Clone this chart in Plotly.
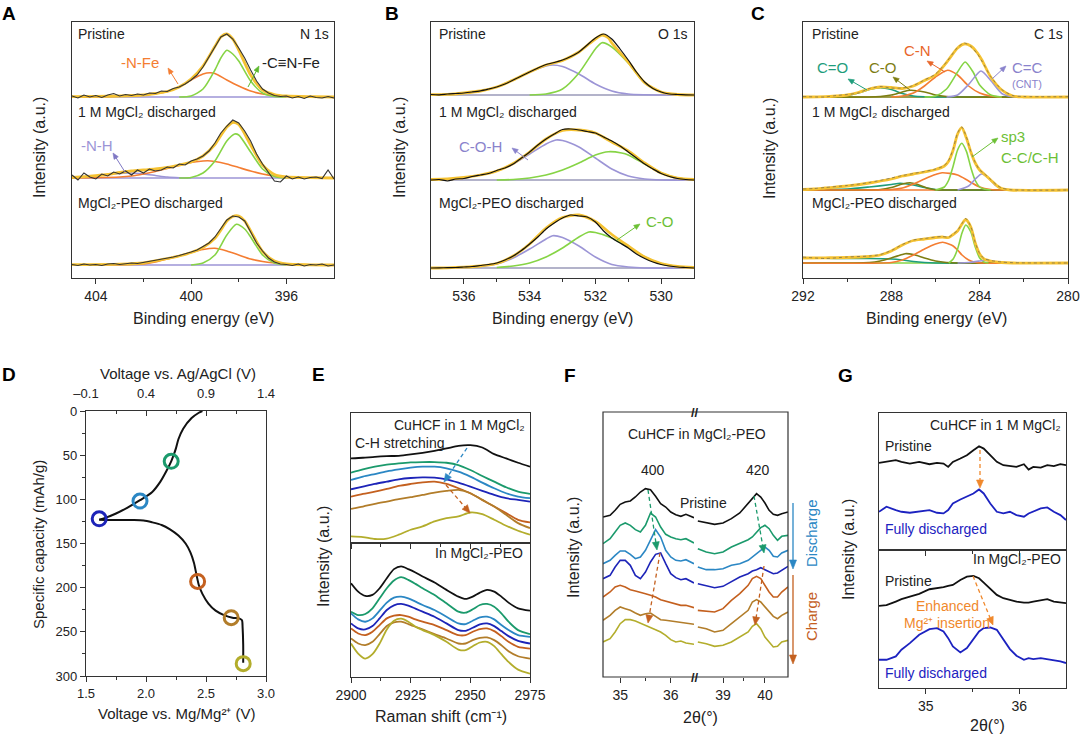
import math
import plotly.graph_objects as go

W, H = 1080, 737
FONT = "Liberation Sans, Arial, Helvetica, sans-serif"

# ================= DATA =================
# ---- Panel A : N 1s XPS (heights above each spectrum's own baseline) ----
A_RAW_EV = [405, 404.75, 404.5, 404.25, 404, 403.75, 403.5, 403.25, 403, 402.75, 402.5, 402.25, 402, 401.75,
            401.5, 401.25, 401, 400.75, 400.5, 400.25, 400, 399.75, 399.5, 399.25, 399, 398.75, 398.5, 398.25,
            398, 397.75, 397.5, 397.25, 397, 396.75, 396.5, 396.25, 396, 395.75, 395.5, 395.25, 395, 394.75,
            394.5, 394.25, 394]
A_PRI_RAW = [1, -1, 2, 0, 1.5, -0.5, 2, 3.5, 1, 2.5, 1.5, 3, 2, 4, 3.5, 6, 5.5, 8.5, 10, 13, 17, 22, 30, 40, 50,
             60, 63, 58, 49, 39, 27, 16, 8, 4, 1.5, 0.5, 1, -1, 0.5, -1.5, 1, -0.5, -1, 0.5, -1]
A_PRI_FIT_EV = [405, 404, 403, 402, 401.5, 401, 400.5, 400, 399.5, 399, 398.75, 398.5, 398.25, 398, 397.5, 397,
                396.5, 396, 395, 394]
A_PRI_FIT = [0.3, 0.6, 1, 2, 3.5, 5.5, 10, 18, 31, 50.5, 60, 63, 58, 47, 22, 7, 2.5, 1, 0.3, 0]
A_PRI_CN_EV = [400.5, 400, 399.5, 399, 398.75, 398.5, 398.25, 398, 397.5, 397, 396.5, 396]
A_PRI_CN = [0, 1, 8, 27, 39, 46.7, 43, 36, 16, 4, 0.5, 0]
A_PRI_NFE_EV = [405, 404, 403, 402, 401, 400.5, 400, 399.5, 399.2, 399, 398.5, 398, 397.5, 397, 396.5, 396, 395, 394]
A_PRI_NFE = [0, 0.3, 0.8, 2, 5.5, 10, 17, 23, 24.3, 23.5, 17, 11, 6, 3, 1.8, 1, 0.3, 0]

A_1M_RAW = [3, -2, 5, 1, -1, 4, 2, 6, 4, 7, 3, 8, 5, 9, 7, 8, 11, 10, 14, 13, 17, 19, 22, 27, 35, 45, 52, 58, 55,
            47, 37, 24, 14, 6, -3, -4, 2, -1, 1, -1, 0.5, 1, -0.5, 8, -1]
A_1M_FIT_EV = [405, 404, 403.5, 403, 402.5, 402, 401.5, 401, 400.5, 400, 399.5, 399, 398.75, 398.5, 398.25, 398,
               397.5, 397, 396.5, 396, 395, 394]
A_1M_FIT = [0.5, 2.3, 3.5, 5.5, 7, 8, 9, 10.5, 13, 16, 22, 33.5, 42.5, 51, 55.5, 53.5, 33, 13, 3.5, 1, 0.3, 0]
A_1M_CN_EV = [400.5, 400, 399.5, 399, 398.5, 398.17, 398, 397.5, 397, 396.5, 396]
A_1M_CN = [0, 0.5, 5, 17, 37, 44, 43, 26, 9, 1.5, 0]
A_1M_NFE_EV = [405, 404, 403, 402.5, 402, 401.5, 401, 400.5, 400, 399.5, 399.3, 399, 398.5, 398, 397.5, 397,
               396.5, 396, 395, 394]
A_1M_NFE = [0, 0.3, 1, 2, 4, 6.5, 9.5, 12.5, 15.5, 17, 17.3, 16.5, 14, 10.5, 7, 4, 2, 1, 0.3, 0]
A_1M_NH_EV = [405, 404, 403.5, 403, 402.6, 402, 401.5, 401, 400.5, 400]
A_1M_NH = [0.5, 2, 3.5, 4.5, 5, 4, 2.5, 1, 0.3, 0]

A_PEO_RAW = [0.5, -0.5, 1, 0, 0.5, -0.5, 1, 1.5, 0.5, 1, 2, 1.5, 2.5, 4, 4.5, 6, 7, 8, 9.5, 11, 13, 15, 18.5, 22,
             28, 37, 45, 49, 48, 44, 33, 22, 14, 7, 3, 1, 0.5, -0.5, 1, -1, 0.5, 0, 1, -1, 0]
A_PEO_FIT_EV = [405, 403, 402, 401, 400.5, 400, 399.5, 399, 398.75, 398.5, 398.25, 398, 397.75, 397.5, 397,
                396.5, 396, 395, 394]
A_PEO_FIT = [0.3, 0.8, 2, 6.5, 9, 12.5, 17.5, 26.7, 35, 44, 48.5, 49, 44, 34, 13.5, 4, 1, 0.2, 0]
A_PEO_CN_EV = [400, 399.5, 399, 398.5, 398.1, 397.75, 397.5, 397, 396.5, 396]
A_PEO_CN = [0, 2, 10, 30, 40.7, 36, 28, 10, 2, 0]
A_PEO_NFE_EV = [405, 403, 402, 401.5, 401, 400.5, 400, 399.5, 399, 398.5, 398, 397.5, 397, 396.5, 396, 395, 394]
A_PEO_NFE = [0, 0.3, 1, 3, 6, 9, 12.5, 15.5, 16.7, 14, 10, 6, 3.5, 2, 1, 0.2, 0]
A_BASE_EV = [405, 394]
A_BASE = [0, 0]
A_OFFSETS = [181, 100, 13]

# ---- Panel B : O 1s ----
B_RAW_EV = [537, 536.75, 536.5, 536.25, 536, 535.75, 535.5, 535.25, 535, 534.75, 534.5, 534.25, 534, 533.75,
            533.5, 533.25, 533, 532.75, 532.5, 532.25, 532, 531.75, 531.5, 531.25, 531, 530.75, 530.5, 530.25,
            530, 529.75, 529.5, 529.25, 529]
B_PRI_RAW = [0.5, 0.2, 1, 1.5, 2, 3, 4.2, 6, 8, 11, 15, 19, 23, 27, 30.5, 32.5, 35, 38.5, 43, 50, 57, 61, 56, 46,
             35, 23, 13, 6.5, 3, 1, 0.5, 0.2, 0]
B_PRI_FIT_EV = [537, 536.5, 536, 535.5, 535, 534.5, 534, 533.5, 533, 532.5, 532.2, 532, 531.8, 531.6, 531.5, 531,
                530.5, 530, 529.5, 529]
B_PRI_FIT = [0.3, 0.6, 2, 4, 8, 15, 23, 30, 34.5, 43, 51, 56, 60, 57, 52, 33, 12.2, 3, 0.5, 0]
B_PRI_COH_EV = [537, 536.5, 536, 535.5, 535, 534.5, 534, 533.5, 533.3, 533, 532.5, 532, 531.5, 531, 530.5, 530, 529]
B_PRI_COH = [0.3, 0.6, 2, 4, 8, 15, 23, 29, 30, 28.5, 21, 11, 4, 1, 0.2, 0, 0]
B_PRI_CO_EV = [534, 533.5, 533, 532.5, 532, 531.8, 531.5, 531, 530.5, 530, 529.5, 529]
B_PRI_CO = [0, 1, 6, 22, 46, 52.3, 48, 32, 12, 3, 0.5, 0]

B_1M_RAW = [0, 0.5, -1, 1, 1.5, 3.5, 5, 6.5, 9.5, 12, 16, 22, 28, 35, 41, 46, 50.5, 51, 50, 48.5, 47, 43, 39, 34,
            28, 22, 16, 11, 6.5, 3.5, 1.5, 0.5, 0]
B_1M_FIT_EV = [537, 536.5, 536, 535.5, 535, 534.5, 534, 533.5, 533, 532.5, 532, 531.5, 531, 530.5, 530, 529.5, 529]
B_1M_FIT = [0.5, 1, 2.5, 5, 9, 16.5, 28, 41, 49.5, 50, 47, 38, 29, 17, 7, 2, 0.5]
B_1M_COH_EV = [537, 536.5, 536, 535.5, 535, 534.5, 534, 533.5, 533.2, 533, 532.5, 532, 531.5, 531, 530.5, 530, 529]
B_1M_COH = [0.5, 1, 2.5, 5, 9, 16, 26, 36, 40, 39.5, 33, 22, 11, 4, 1, 0, 0]
B_1M_CO_EV = [535, 534.5, 534, 533.5, 533, 532.5, 532, 531.6, 531.2, 531, 530.5, 530, 529.5, 529]
B_1M_CO = [0, 0.5, 2, 5, 10, 17, 25, 28.3, 27, 25, 16, 7, 2, 0.5]

B_PEO_RAW = [0, 0.2, 0.3, 0.5, 1, 1.5, 2.5, 3.5, 5, 8, 12, 17.5, 24, 31, 39, 45, 50, 53, 52, 51, 46, 37, 30, 25,
             20, 14, 9.5, 6, 3.5, 2, 1, 0.5, 0]
B_PEO_FIT_EV = [537, 536.5, 536, 535.5, 535, 534.5, 534, 533.5, 533, 532.5, 532, 531.5, 531, 530.5, 530, 529.5, 529]
B_PEO_FIT = [0, 0.2, 0.8, 2, 4.5, 12, 24, 40, 50.5, 53, 46.5, 33.5, 22, 11, 4.5, 1.5, 0.5]
B_PEO_COH_EV = [537, 536, 535.5, 535, 534.5, 534, 533.5, 533.3, 533, 532.5, 532, 531.5, 531, 530.5, 529]
B_PEO_COH = [0, 0.3, 1.5, 4, 10, 19, 29, 32.3, 30.5, 22, 11, 3.5, 1, 0, 0]
B_PEO_CO_EV = [535, 534.5, 534, 533.5, 533, 532.5, 532.2, 532, 531.5, 531, 530.5, 530, 529.5, 529]
B_PEO_CO = [0.5, 2, 5, 11, 20, 31, 36, 35.5, 30, 21, 11, 4.5, 1.5, 0.5]
B_BASE_EV = [537, 529]
B_BASE = [0, 0]
B_OFFSETS = [183, 98, 10]

# ---- Panel C : C 1s ----
C_PRI_EV = [292, 291, 290.5, 290, 289.5, 289, 288.5, 288, 287.5, 287, 286.5, 286, 285.5, 285, 284.7, 284.4, 284.1,
            283.9, 283.5, 283, 282.5, 282, 280]
C_PRI_FIT = [0, 0.3, 1, 2, 4.5, 8, 10, 9.5, 8.5, 11, 16.5, 22, 34.5, 49, 53, 51, 44, 37, 20, 7, 1, 0, 0]
C_PRI_RAW = [0.5, 0, 1.5, 2.5, 4, 8.5, 10.5, 9, 9, 11.5, 17, 23, 35, 49.5, 54, 50.5, 43, 36, 20.5, 7.5, 1.5, 0.5, 0.3]
C_PRI_CEO_EV = [292, 291, 290.5, 290, 289.5, 289, 288.5, 288, 287.5, 287, 286.5, 286, 280]
C_PRI_CEO = [0, 0, 0.5, 1.5, 4, 7.5, 9.3, 7.5, 3.5, 1, 0.2, 0, 0]
C_PRI_CO_EV = [292, 289, 288.5, 288, 287.5, 287.15, 286.5, 286, 285.5, 285, 280]
C_PRI_CO = [0, 0, 0.5, 2, 5, 6.7, 5, 2, 0.5, 0, 0]
C_PRI_CN_EV = [288, 287.5, 287, 286.5, 286, 285.45, 285, 284.5, 284, 283.5, 283]
C_PRI_CN = [0, 1, 4, 11, 20, 26.7, 22, 11, 4, 1, 0]
C_PRI_SP3_EV = [286.5, 286, 285.5, 285, 284.66, 284.3, 284, 283.5, 283]
C_PRI_SP3 = [0, 1, 8, 25, 35, 25, 12, 2, 0]
C_PRI_CC_EV = [285.5, 285, 284.5, 283.94, 283.5, 283, 282.5, 282]
C_PRI_CC = [0, 2, 12.5, 26, 16.5, 3.5, 0.3, 0]

C_1M_EV = [292, 291.5, 291, 290, 289, 288, 287.5, 287, 286.5, 286, 285.6, 285.4, 285.2, 285, 284.81, 284.6, 284.4,
           284.2, 284, 283.8, 283.5, 283.2, 283, 282.6, 280]
C_1M_FIT = [0.5, 1, 2, 4, 7, 11, 14, 16, 18, 20.5, 24, 29, 40, 56, 62.3, 52, 38, 27, 20, 16, 10, 4, 1.5, 0, 0]
C_1M_RAW = [1, 1.5, 2.5, 4.5, 7.5, 12, 14.5, 16.5, 18.5, 21, 24.5, 30, 41, 57, 63, 53, 38.5, 27.5, 20, 16.5, 10.5,
            4.5, 2, 0.3, 0]
C_1M_CEO_EV = [292, 291, 290, 289, 288, 287.6, 287, 286.5, 286, 285.5, 280]
C_1M_CEO = [0.5, 0.8, 1, 3, 5.5, 6.7, 5, 2.5, 0.5, 0, 0]
C_1M_CO_EV = [292, 288.5, 288, 287.5, 287.15, 286.8, 286.3, 286, 285.5, 280]
C_1M_CO = [0, 0.5, 2.5, 6, 7.3, 5.5, 1.5, 0.3, 0, 0]
C_1M_CN_EV = [292, 288, 287.5, 287, 286.5, 286, 285.7, 285, 284.5, 284, 283.5, 283, 280]
C_1M_CN = [0, 0.5, 2, 6, 11, 15.5, 17.3, 15, 9, 3, 0.5, 0, 0]
C_1M_SP3_EV = [286, 285.6, 285.4, 285.2, 285, 284.81, 284.6, 284.4, 284.2, 284, 283.8, 283.5]
C_1M_SP3 = [0, 3, 10, 24, 40, 46.7, 38.6, 22.5, 9.5, 3, 1, 0]
C_1M_CC_EV = [285, 284.5, 284.2, 283.91, 283.6, 283.3, 283, 282.7, 282]
C_1M_CC = [0, 4, 11, 16, 12, 5, 1.5, 0, 0]

C_PEO_EV = [292, 291, 290, 289, 288.5, 288, 287.5, 287, 286.5, 286, 285.7, 285.4, 285.2, 285, 284.8, 284.63,
            284.4, 284.2, 284, 283.8, 283.5, 283, 282.5, 280]
C_PEO_FIT = [5, 5.2, 5.5, 6.5, 8, 12, 18, 22.5, 24, 25.5, 26, 25.5, 28.5, 32, 39, 43.5, 36, 20, 9, 4, 2, 0.5, 0, 0]
C_PEO_RAW = [6, 4.5, 6, 7, 8.5, 12.5, 18.5, 23, 24.5, 26, 26.5, 26, 29, 32.5, 39.5, 44.5, 36.5, 20.5, 9.5, 4.5, 2.5,
             1, 0.3, 0]
C_PEO_CEO_EV = [292, 291, 290, 289, 288, 287.5, 287, 286.5, 286, 280]
C_PEO_CEO = [4.7, 4.7, 4.5, 4.5, 4, 3, 1.5, 0.5, 0, 0]
C_PEO_CO_EV = [292, 289, 288.5, 288, 287.5, 287.38, 287, 286.5, 286, 285.5, 285, 280]
C_PEO_CO = [0, 0.5, 2, 5, 8.5, 9.3, 8.5, 5, 2, 0.5, 0, 0]
C_PEO_CN_EV = [292, 288, 287.5, 287, 286.5, 286, 285.67, 285.4, 285.2, 285, 284.8, 284.5, 284.2, 283.8, 280]
C_PEO_CN = [0, 0.5, 3, 8, 14, 19, 20.7, 19, 17, 13, 8, 3, 0.8, 0, 0]
C_PEO_SP3_EV = [285.4, 285.2, 285, 284.8, 284.63, 284.4, 284.2, 284, 283.8, 283.6]
C_PEO_SP3 = [0, 4, 14, 30, 38, 31, 16, 5, 1, 0]
C_PEO_CC_EV = [285, 284.5, 284, 283.8, 283.5, 283, 282.5]
C_PEO_CC = [0, 0.5, 2, 2.7, 2, 0.5, 0]
C_BASE_EV = [292, 280]
C_BASE = [0, 0]
C_OFFSETS = [181, 88, 15]

# ---- Panel D : charge/discharge curve ----
D_DIS_V = [2.47, 2.44, 2.38, 2.31, 2.27, 2.25, 2.23, 2.21, 2.17, 2.12, 2.05, 1.95, 1.85, 1.75, 1.66, 1.61]
D_DIS_CAP = [0, 2, 8, 20, 32, 42, 50, 57, 68, 80, 92, 101, 109, 116, 121, 123]
D_CHG_V = [1.61, 1.75, 1.9, 1.98, 2.05, 2.13, 2.2, 2.27, 2.33, 2.37, 2.4, 2.42, 2.44, 2.47, 2.52, 2.58, 2.65, 2.72,
           2.78, 2.8, 2.805, 2.81, 2.81]
D_CHG_CAP = [123, 123.5, 123.5, 124, 126, 129, 134, 141, 150, 160, 172, 185, 197, 207, 218, 226, 231, 234, 235, 237,
             245, 265, 285]
D_MARK_V = [2.21, 1.95, 1.61, 2.43, 2.71, 2.81]
D_MARK_CAP = [57, 102, 122, 193, 234, 286]
D_MARK_COLORS = ["#1b9a6c", "#2b87c4", "#1d24b8", "#c4601f", "#b27d2a", "#b3ad2c"]

# ---- Panel E : Raman C-H stretching ----
E_X_TOP = [2900, 2905, 2910, 2915, 2920, 2925, 2930, 2935, 2940, 2945, 2950, 2955, 2960, 2965, 2970, 2975]
E_TOP = [
    [255, 257, 260, 262, 263, 267, 272, 278, 285, 293, 295, 288, 268, 255, 242, 230],
    [212, 222, 230, 236, 240, 243, 244, 244, 242, 235, 220, 202, 185, 168, 155, 148],
    [190, 200, 208, 216, 222, 227, 230, 230, 225, 215, 200, 182, 165, 150, 140, 135],
    [162, 170, 178, 185, 192, 196, 198, 197, 192, 182, 170, 157, 145, 135, 130, 125],
    [140, 148, 155, 163, 172, 178, 183, 185, 178, 165, 150, 130, 110, 90, 70, 62],
    [103, 110, 118, 125, 132, 138, 145, 152, 157, 160, 150, 130, 110, 85, 60, 45],
    [20, 18, 12, 13, 25, 40, 50, 65, 75, 80, 92, 87, 70, 52, 37, 25],
]
E_X_BOT = [2900, 2903, 2906, 2909, 2912, 2915, 2918, 2921, 2924, 2927, 2930, 2935, 2940, 2945, 2948, 2951, 2954,
           2957, 2960, 2963, 2966, 2970, 2975]
E_BOT = [
    [280, 255, 242, 245, 265, 295, 322, 330, 322, 312, 300, 282, 260, 240, 233, 240, 252, 260, 255, 240, 222, 205, 198],
    [195, 185, 188, 205, 235, 265, 288, 298, 290, 278, 265, 245, 220, 195, 192, 202, 215, 218, 210, 190, 165, 140, 128],
    [190, 172, 165, 175, 198, 222, 237, 240, 235, 225, 215, 200, 180, 160, 158, 168, 178, 180, 172, 155, 140, 125, 120],
    [160, 145, 142, 152, 175, 200, 214, 218, 213, 204, 195, 180, 160, 140, 138, 147, 157, 160, 152, 137, 122, 108, 100],
    [145, 130, 125, 135, 155, 175, 183, 185, 180, 172, 165, 155, 140, 125, 125, 135, 143, 145, 137, 122, 105, 90, 85],
    [115, 100, 95, 105, 128, 152, 163, 165, 158, 150, 142, 128, 115, 100, 100, 110, 117, 118, 110, 95, 77, 62, 55],
    [100, 70, 55, 68, 100, 142, 168, 174, 165, 150, 140, 125, 105, 82, 80, 92, 103, 105, 92, 68, 45, 22, 10],
]
SERIES_COLORS = ["#111111", "#1b9a6c", "#2b87c4", "#1d24b8", "#c4601f", "#b27d2a", "#b3ad2c"]

# ---- Panel F : XRD (broken 2-theta axis) ----
F_XL = [34.66, 34.8, 34.9, 35.0, 35.1, 35.2, 35.3, 35.4, 35.5, 35.6, 35.7, 35.8, 35.9, 36.0, 36.1, 36.2, 36.3, 36.46]
F_LEFT = [
    [480, 485, 500, 518, 525, 528, 540, 555, 565, 562, 542, 520, 510, 495, 487, 482, 488, 478],
    [400, 415, 435, 455, 462, 455, 442, 435, 455, 492, 480, 450, 428, 420, 415, 412, 415, 402],
    [340, 350, 365, 378, 378, 368, 355, 360, 380, 410, 442, 420, 380, 360, 350, 348, 352, 340],
    [295, 305, 330, 350, 350, 335, 305, 295, 315, 345, 368, 372, 340, 310, 298, 292, 295, 282],
    [240, 255, 270, 275, 270, 262, 258, 255, 250, 245, 240, 232, 228, 222, 218, 215, 215, 208],
    [170, 185, 200, 210, 205, 200, 192, 185, 190, 192, 182, 172, 170, 168, 165, 164, 162, 158],
    [105, 115, 135, 160, 172, 172, 168, 162, 155, 150, 142, 135, 125, 112, 105, 108, 102, 98],
]
F_XR = [38.4, 38.6, 38.8, 39.0, 39.2, 39.4, 39.6, 39.7, 39.8, 39.9, 40.0, 40.1, 40.2, 40.3, 40.4, 40.55]
F_RIGHT = [
    [468, 462, 458, 462, 475, 492, 520, 535, 550, 540, 522, 500, 488, 485, 490, 495],
    [385, 375, 370, 375, 390, 400, 412, 420, 435, 448, 455, 445, 425, 410, 422, 425],
    [330, 322, 322, 325, 335, 340, 350, 360, 370, 380, 390, 380, 362, 360, 372, 380],
    [280, 275, 268, 272, 285, 300, 310, 318, 322, 328, 322, 315, 310, 312, 320, 332],
    [200, 198, 195, 205, 230, 250, 275, 295, 302, 295, 275, 255, 240, 240, 255, 270],
    [150, 145, 135, 140, 160, 180, 200, 225, 232, 225, 210, 195, 182, 175, 185, 195],
    [105, 100, 92, 95, 105, 120, 135, 152, 160, 145, 120, 105, 90, 92, 105, 110],
]

# ---- Panel G : XRD (400) pristine vs fully discharged ----
G_X = [34.5, 34.58, 34.68, 34.74, 34.83, 34.93, 35.04, 35.12, 35.19, 35.24, 35.29, 35.37, 35.44, 35.51, 35.57,
       35.62, 35.69, 35.76, 35.83, 35.9, 35.97, 36.05, 36.1, 36.15, 36.23, 36.3, 36.37, 36.44, 36.5]
G_AQ_PRI = [262, 265, 270, 265, 260, 265, 258, 262, 260, 250, 265, 275, 285, 300, 312, 305, 285, 265, 255, 252,
            250, 258, 242, 250, 248, 255, 252, 258, 255]
G_AQ_DIS = [115, 130, 120, 115, 112, 115, 120, 112, 110, 120, 140, 152, 160, 170, 182, 170, 140, 115, 110, 115,
            105, 100, 110, 115, 125, 128, 115, 105, 90]
G_PEO_PRI = [247, 249, 260, 267, 275, 283, 297, 300, 303, 307, 310, 325, 335, 337, 330, 317, 297, 280, 270, 265,
             260, 257, 257, 260, 263, 267, 260, 257, 255]
G_PEO_DIS = [85, 85, 95, 115, 135, 160, 177, 180, 170, 150, 125, 107, 120, 145, 170, 180, 182, 175, 145, 117, 97,
             85, 90, 87, 90, 87, 85, 80, 75]

# ================= STYLE / HELPERS =================
FR = "#333333"
ORANGE = "#f47d32"
GREEN = "#86d445"
LAV = "#9c95d6"
YEL = "#f5c232"
TEAL = "#1e9d7c"
OLIVE = "#7d7d12"
RAW = "#333333"
GBLUE = "#1c22c0"


def px(x):
    return x / W


def py(y):
    return 1 - y / H


fig = go.Figure()


def add(x, y, xa, ya, color, width=1.5, off=0, shape="spline", dash=None):
    line = dict(color=color, width=width, shape=shape, dash=dash)
    if shape == "spline":
        line["smoothing"] = 0.7
    fig.add_trace(go.Scatter(x=x, y=[v + off for v in y], xaxis=xa, yaxis=ya, mode="lines", line=line,
                             hoverinfo="skip", showlegend=False))


ann = []
shapes = []


def T(x, y, s, size=14, color="#222222", xa="center", angle=0):
    ann.append(dict(x=px(x), y=py(y), xref="paper", yref="paper", text=s, showarrow=False,
                    font=dict(size=size, color=color, family=FONT), xanchor=xa, yanchor="middle",
                    textangle=angle))


def _head(hx, hy, ux, uy, color, L, w):
    bx, by = hx - ux * L, hy - uy * L
    nx, ny = -uy, ux
    p1 = (bx + nx * w / 2, by + ny * w / 2)
    p2 = (bx - nx * w / 2, by - ny * w / 2)
    path = "M %.5f %.5f L %.5f %.5f L %.5f %.5f Z" % (px(hx), py(hy), px(p1[0]), py(p1[1]), px(p2[0]), py(p2[1]))
    shapes.append(dict(type="path", xref="paper", yref="paper", path=path, fillcolor=color,
                       line=dict(color=color, width=0.6)))


def ARROW(tx, ty, hx, hy, color, width=1.0, L=6, w=5, dash=None):
    d = math.hypot(hx - tx, hy - ty)
    ux, uy = (hx - tx) / d, (hy - ty) / d
    shapes.append(dict(type="line", xref="paper", yref="paper", x0=px(tx), y0=py(ty),
                       x1=px(hx - ux * L * 0.8), y1=py(hy - uy * L * 0.8),
                       line=dict(color=color, width=width, dash=dash)))
    _head(hx, hy, ux, uy, color, L, w)


def DASHARROW(tx, ty, hx, hy, color, width=1.3):
    ARROW(tx, ty, hx, hy, color, width, L=8, w=7, dash="4px,3px")


# ================= TRACES =================
# Panel A
A_SPECTRA = [
    (A_PRI_RAW, A_PRI_FIT_EV, A_PRI_FIT, [(A_PRI_NFE_EV, A_PRI_NFE, ORANGE), (A_PRI_CN_EV, A_PRI_CN, GREEN)]),
    (A_1M_RAW, A_1M_FIT_EV, A_1M_FIT, [(A_1M_NH_EV, A_1M_NH, LAV), (A_1M_NFE_EV, A_1M_NFE, ORANGE),
                                       (A_1M_CN_EV, A_1M_CN, GREEN)]),
    (A_PEO_RAW, A_PEO_FIT_EV, A_PEO_FIT, [(A_PEO_NFE_EV, A_PEO_NFE, ORANGE), (A_PEO_CN_EV, A_PEO_CN, GREEN)]),
]
for off, (raw, fx, fy, comps) in zip(A_OFFSETS, A_SPECTRA):
    add(A_BASE_EV, A_BASE, "x", "y", LAV, 1.5, off, "linear")
    for cx, cy, col in comps:
        add(cx, cy, "x", "y", col, 1.6, off)
    add(fx, fy, "x", "y", YEL, 2.8, off)
    add(A_RAW_EV, raw, "x", "y", RAW, 1.1, off, "linear")

# Panel B
B_SPECTRA = [
    (B_PRI_RAW, B_PRI_FIT_EV, B_PRI_FIT, B_PRI_COH_EV, B_PRI_COH, B_PRI_CO_EV, B_PRI_CO),
    (B_1M_RAW, B_1M_FIT_EV, B_1M_FIT, B_1M_COH_EV, B_1M_COH, B_1M_CO_EV, B_1M_CO),
    (B_PEO_RAW, B_PEO_FIT_EV, B_PEO_FIT, B_PEO_COH_EV, B_PEO_COH, B_PEO_CO_EV, B_PEO_CO),
]
for off, (raw, fx, fy, hx, hy, cx, cy) in zip(B_OFFSETS, B_SPECTRA):
    add(B_BASE_EV, B_BASE, "x2", "y2", "#9a9ab8", 1.5, off, "linear")
    add(hx, hy, "x2", "y2", LAV, 1.6, off)
    add(cx, cy, "x2", "y2", GREEN, 1.6, off)
    add(fx, fy, "x2", "y2", YEL, 2.8, off)
    add(B_RAW_EV, raw, "x2", "y2", "#111111", 1.2, off)

# Panel C
C_SPECTRA = [
    (C_PRI_EV, C_PRI_RAW, C_PRI_FIT, OLIVE,
     [(C_PRI_CEO_EV, C_PRI_CEO, TEAL), (C_PRI_CO_EV, C_PRI_CO, OLIVE), (C_PRI_CN_EV, C_PRI_CN, ORANGE),
      (C_PRI_SP3_EV, C_PRI_SP3, GREEN), (C_PRI_CC_EV, C_PRI_CC, LAV)]),
    (C_1M_EV, C_1M_RAW, C_1M_FIT, ORANGE,
     [(C_1M_CEO_EV, C_1M_CEO, TEAL), (C_1M_CO_EV, C_1M_CO, OLIVE), (C_1M_CN_EV, C_1M_CN, ORANGE),
      (C_1M_SP3_EV, C_1M_SP3, GREEN), (C_1M_CC_EV, C_1M_CC, LAV)]),
    (C_PEO_EV, C_PEO_RAW, C_PEO_FIT, GREEN,
     [(C_PEO_CEO_EV, C_PEO_CEO, TEAL), (C_PEO_CO_EV, C_PEO_CO, OLIVE), (C_PEO_CN_EV, C_PEO_CN, ORANGE),
      (C_PEO_SP3_EV, C_PEO_SP3, GREEN), (C_PEO_CC_EV, C_PEO_CC, LAV)]),
]
for off, (ex, raw, fit, bcol, comps) in zip(C_OFFSETS, C_SPECTRA):
    add(C_BASE_EV, C_BASE, "x3", "y3", bcol, 1.5, off, "linear")
    for cx, cy, col in comps:
        add(cx, cy, "x3", "y3", col, 1.6, off)
    add(ex, fit, "x3", "y3", YEL, 2.8, off)
    add(ex, raw, "x3", "y3", "#555555", 0.6, off, dash="dot")

# Panel D
add(D_DIS_V, D_DIS_CAP, "x4", "y4", "#111111", 2.0)
add(D_CHG_V, D_CHG_CAP, "x4", "y4", "#111111", 2.0)
fig.add_trace(go.Scatter(x=D_MARK_V, y=D_MARK_CAP, xaxis="x4", yaxis="y4", mode="markers",
                         marker=dict(symbol="circle-open", size=14, color=D_MARK_COLORS,
                                     line=dict(width=3, color=D_MARK_COLORS)),
                         hoverinfo="skip", showlegend=False))
# empty trace so the secondary (Ag/AgCl) top axis is drawn
fig.add_trace(go.Scatter(x=[], y=[], xaxis="x5", yaxis="y4", mode="lines", hoverinfo="skip", showlegend=False))

# Panel E
for ys, col in zip(E_TOP, SERIES_COLORS):
    add(E_X_TOP, ys, "x6", "y6", col, 1.8)
for ys, col in zip(E_BOT, SERIES_COLORS):
    add(E_X_BOT, ys, "x7", "y7", col, 1.8)

# Panel F
for ys, col in zip(F_LEFT, SERIES_COLORS):
    add(F_XL, ys, "x8", "y8", col, 1.6, shape="linear")
for ys, col in zip(F_RIGHT, SERIES_COLORS):
    add(F_XR, ys, "x9", "y8", col, 1.6, shape="linear")

# Panel G
add(G_X, G_AQ_PRI, "x10", "y10", "#111111", 1.8, shape="linear")
add(G_X, G_AQ_DIS, "x10", "y10", GBLUE, 1.8, shape="linear")
add(G_X, G_PEO_PRI, "x11", "y11", "#111111", 1.8, shape="linear")
add(G_X, G_PEO_DIS, "x11", "y11", GBLUE, 1.8, shape="linear")


# ================= AXES =================
def xax(d0, d1, rng, anchor, tickvals, minor=None, labels=True, ticktext=None, mirror=True, showline=True,
        size=14, ticks="outside"):
    a = dict(domain=[px(d0), px(d1)], range=rng, anchor=anchor, showgrid=False, zeroline=False, automargin=False,
             showline=showline, linecolor=FR, linewidth=1.2, mirror=mirror, ticks=ticks, ticklen=5,
             tickwidth=1.2, tickcolor=FR, tickmode="array", tickvals=tickvals, showticklabels=labels,
             tickfont=dict(size=size, color="#222222", family=FONT))
    if ticktext is not None:
        a["ticktext"] = ticktext
    if minor:
        a["minor"] = dict(tickmode="array", tickvals=minor, ticks=ticks, ticklen=3, tickwidth=1.1,
                          tickcolor=FR, showgrid=False)
    return a


def yhid(t, b, rng, anchor, showline=True):
    return dict(domain=[py(b), py(t)], range=rng, anchor=anchor, showgrid=False, zeroline=False, automargin=False,
                showline=showline, linecolor=FR, linewidth=1.2, mirror=True, ticks="", showticklabels=False)


layout_axes = dict(
    xaxis=xax(72, 334, [405, 394], "y", [404, 400, 396], [402, 398]),
    yaxis=yhid(22, 278, [0, 256], "x"),
    xaxis2=xax(431, 694, [537, 529], "y2", [536, 534, 532, 530], [535, 533, 531]),
    yaxis2=yhid(22, 278, [0, 256], "x2"),
    xaxis3=xax(803, 1068, [292, 280], "y3", [292, 288, 284, 280], [290, 286, 282]),
    yaxis3=yhid(22, 278, [0, 256], "x3"),
    xaxis4=xax(86, 266, [1.5, 3.0], "y4", [1.5, 2.0, 2.5, 3.0], [1.75, 2.25, 2.75],
               ticktext=["1.5", "2.0", "2.5", "3.0"], mirror=False, size=13),
    xaxis5=dict(xax(86, 266, [-0.1, 1.4], "y4", [-0.1, 0.4, 0.9, 1.4], [0.15, 0.65, 1.15],
                    ticktext=["\u20130.1", "0.4", "0.9", "1.4"], mirror=False, size=13, ticks="inside"),
                overlaying="x4", side="top", ticklabelstandoff=7),
    yaxis4=dict(domain=[py(676), py(411)], range=[300, 0], anchor="x4", showgrid=False, zeroline=False,
                automargin=False,
                showline=True, linecolor=FR, linewidth=1.2, mirror=True, ticks="outside", ticklen=5,
                tickwidth=1.2, tickcolor=FR, tickmode="array", tickvals=[0, 50, 100, 150, 200, 250, 300],
                tickfont=dict(size=13, color="#222222", family=FONT),
                minor=dict(tickmode="array", tickvals=[25, 75, 125, 175, 225, 275], ticks="outside",
                           ticklen=3, tickcolor=FR, showgrid=False)),
    xaxis6=xax(351, 530, [2900, 2975], "y6", [2900, 2925, 2950, 2975], [2912.5, 2937.5, 2962.5], labels=False),
    yaxis6=yhid(413, 543, [0, 392], "x6"),
    xaxis7=xax(351, 530, [2900, 2975], "y7", [2900, 2925, 2950, 2975], [2912.5, 2937.5, 2962.5]),
    yaxis7=yhid(543, 677, [0, 400], "x7"),
    xaxis8=xax(603, 694, [34.66, 36.46], "y8", [35, 36], [35.5], showline=False, mirror=False),
    xaxis9=xax(697, 788, [38.38, 40.55], "y8", [39, 40], [39.5], showline=False, mirror=False),
    yaxis8=yhid(412, 677, [0, 795], "x8", showline=False),
    xaxis10=xax(879, 1066, [34.5, 36.5], "y10", [35, 36], [35.5], labels=False),
    yaxis10=yhid(413, 550, [0, 412], "x10"),
    xaxis11=xax(879, 1066, [34.5, 36.5], "y11", [35, 36], [35.5]),
    yaxis11=yhid(550, 688, [0, 415], "x11"),
)

# F frame and axis breaks
shapes.append(dict(type="rect", xref="paper", yref="paper", x0=px(603), x1=px(788), y0=py(677), y1=py(412),
                   line=dict(color=FR, width=1.2), fillcolor="rgba(0,0,0,0)"))
for yy in (412, 677):
    T(695, yy, "<b>//</b>", size=13, color="#222222")

# ================= TEXT =================
for s, x, y in [("A", 9, 13), ("B", 392, 13), ("C", 758, 13), ("D", 9, 374), ("E", 318, 374), ("F", 570, 375),
                ("G", 845, 375)]:
    T(x, y, "<b>%s</b>" % s, size=19, color="#000000")

MG = "MgCl\u2082"
MG2 = "Mg\u00b2\u207a"
# Panel A text
T(76, 34, "Pristine", xa="left")
T(331, 34, "N 1s", xa="right")
T(140, 63, "-N-Fe", size=15, color=ORANGE)
T(291, 63, "-C\u2261N-Fe", size=15)
T(76, 112, "1 M " + MG + " discharged", xa="left")
T(97, 145, "-N-H", size=15, color=LAV)
T(76, 203, MG + "-PEO discharged", xa="left")
ARROW(178, 84, 168, 68, ORANGE)
ARROW(248, 87, 259, 66, "#5cb82c")
ARROW(125, 172, 113, 153, "#7f78c4")
T(203, 318, "Binding energy (eV)", size=16)
T(40, 148, "Intensity (a.u.)", size=16, angle=-90)

# Panel B text
T(437, 34, "Pristine", xa="left")
T(690, 34, "O 1s", xa="right")
T(437, 112, "1 M " + MG + " discharged", xa="left")
T(480, 147, "C-O-H", size=15, color="#8a83cc")
ARROW(528, 160, 512, 148, "#8a83cc")
T(437, 203, MG + "-PEO discharged", xa="left")
T(660, 222, "C-O", size=15, color="#6cc035")
ARROW(617, 240, 640, 224, "#6cc035")
T(562, 318, "Binding energy (eV)", size=16)
T(400, 148, "Intensity (a.u.)", size=16, angle=-90)

# Panel C text
T(810, 34, "Pristine", xa="left")
T(1065, 34, "C 1s", xa="right")
T(832, 67, "C=O", size=15, color=TEAL)
ARROW(867, 90, 848, 79, TEAL)
T(883, 67, "C-O", size=15, color=OLIVE)
ARROW(910, 90, 893, 77, OLIVE)
T(917, 50, "C-N", size=15, color="#e8662a")
ARROW(945, 72, 927, 61, "#e8662a")
T(1027, 67, "C=C", size=15, color="#8a83cc")
T(1027, 84, "(CNT)", size=11, color="#8a83cc")
ARROW(992, 79, 1006, 66, "#8a83cc")
T(810, 112, "1 M " + MG + " discharged", xa="left")
T(999, 137, "sp3", size=15, color="#6cc035", xa="left")
T(999, 157, "C-C/C-H", size=15, color="#6cc035", xa="left")
ARROW(972, 157, 998, 138, "#6cc035")
T(810, 203, MG + "-PEO discharged", xa="left")
T(936, 318, "Binding energy (eV)", size=16)
T(770, 148, "Intensity (a.u.)", size=16, angle=-90)

# Panel D text
T(178, 373, "Voltage vs. Ag/AgCl (V)", size=15)
T(177, 713, "Voltage vs. Mg/" + MG2 + " (V)", size=15)
T(38, 545, "Specific capacity (mAh/g)", size=15, angle=-90)

# Panel E text
T(527, 425, "CuHCF in 1 M " + MG, size=14, xa="right")
T(353, 443, "C-H stretching", size=14, xa="left")
T(525, 553, "In " + MG + "-PEO", size=14, xa="right")
DASHARROW(467, 448, 444, 482, "#2b87c4")
DASHARROW(446, 485, 470, 513, "#c4601f")
T(441, 716, "Raman shift (cm\u207b\u00b9)", size=16)
T(323, 557, "Intensity (a.u.)", size=16, angle=-90)

# Panel F text
T(697, 434, "CuHCF in " + MG + "-PEO", size=14)
T(653, 470, "400", size=14)
T(758, 470, "420", size=14)
T(703, 503, "Pristine", size=14)
DASHARROW(648, 490, 657, 550, "#1b9a6c")
DASHARROW(754, 496, 764, 553, "#1b9a6c")
DASHARROW(660, 553, 648, 623, "#c4601f")
DASHARROW(764, 566, 755, 625, "#c4601f")
ARROW(793, 503, 793, 569, "#2b87c4", 1.3, L=9, w=7)
ARROW(793, 575, 793, 664, "#c4601f", 1.3, L=9, w=7)
T(811, 533, "Discharge", size=15, color="#2b87c4", angle=-90)
T(811, 617, "Charge", size=15, color="#c4601f", angle=-90)
T(700, 717, "2\u03b8(\u00b0)", size=16)
T(573, 548, "Intensity (a.u.)", size=16, angle=-90)

# Panel G text
T(1063, 425, "CuHCF in 1 M " + MG, size=14, xa="right")
T(883, 446, "Pristine", size=14, xa="left")
T(883, 529, "Fully discharged", size=14, xa="left", color=GBLUE)
DASHARROW(980, 450, 980, 488, "#f0882c")
T(1063, 559, "In " + MG + "-PEO", size=14, xa="right")
T(883, 581, "Pristine", size=14, xa="left")
T(947, 606, "Enhanced", size=14, color="#f0882c")
T(947, 623, MG2 + " insertion", size=14, color="#f0882c")
T(883, 673, "Fully discharged", size=14, xa="left", color=GBLUE)
DASHARROW(973, 576, 993, 625, "#f0882c")
T(987, 725, "2\u03b8(\u00b0)", size=16)
T(848, 550, "Intensity (a.u.)", size=16, angle=-90)

fig.update_layout(
    template="none",
    width=W, height=H, margin=dict(l=0, r=0, t=0, b=0, pad=0), autosize=False,
    paper_bgcolor="white", plot_bgcolor="white", showlegend=False,
    font=dict(family=FONT, size=14, color="#222222"),
    annotations=ann, shapes=shapes, **layout_axes,
)
fig.write_html("out.html", config={"displayModeBar": False},
               post_script="document.body.style.margin='0px'; document.body.style.overflow='hidden';")
